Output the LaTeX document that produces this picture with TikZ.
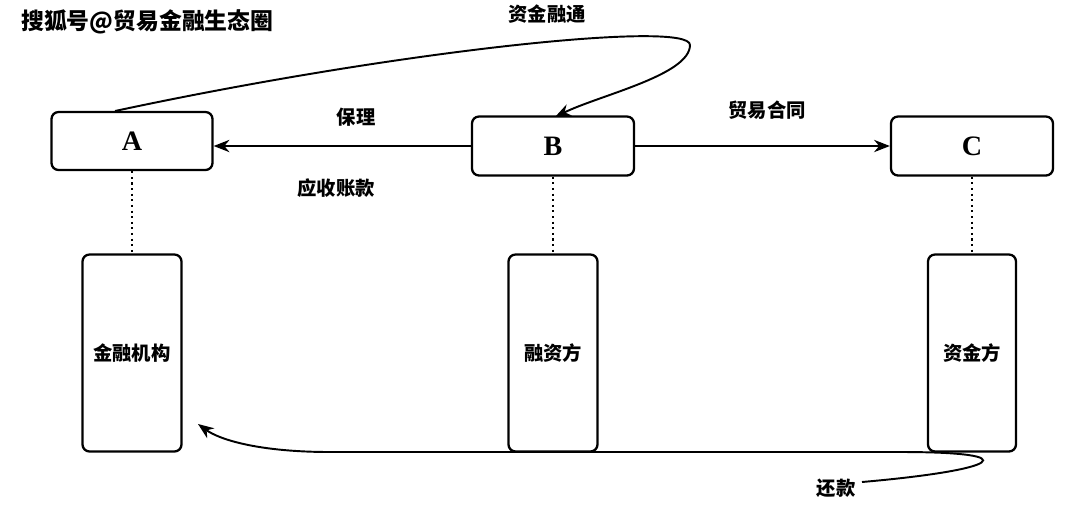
\documentclass[tikz,border=0pt]{standalone}
\usepackage{fontspec}
\newfontfamily\cjk{Noto Sans CJK SC}
\newfontfamily\serifb{Liberation Serif}
\usetikzlibrary{arrows.meta}
\begin{document}
\begin{tikzpicture}[x=0.02cm,y=-0.02cm,
 box/.style={draw,line width=1.3pt,rounded corners=4pt,inner sep=0pt},
 letter/.style={font=\serifb\bfseries\fontsize{16}{18}\selectfont},
 lab/.style={font=\cjk\bfseries\fontsize{11}{13}\selectfont},
 arr/.style={line width=1.1pt,-{Stealth[length=9pt,width=7pt]}}]
\useasboundingbox (0,0) rectangle (1080,512);
\node[font=\cjk\bfseries\fontsize{13}{15}\selectfont,anchor=west] (wm) at (15,22) {搜狐号@贸易金融生态圈};
\node[box,minimum width=161*0.02cm,minimum height=58*0.02cm,letter] (A) at (132,141) {A};
\node[box,minimum width=162*0.02cm,minimum height=59*0.02cm,letter] (B) at (553,146) {B};
\node[box,minimum width=162*0.02cm,minimum height=59*0.02cm,letter] (C) at (972,146) {C};
\node[box,minimum width=99*0.02cm,minimum height=197*0.02cm,lab] (D) at (132,353) {金融机构};
\node[box,minimum width=89*0.02cm,minimum height=197*0.02cm,lab] (E) at (553,353) {融资方};
\node[box,minimum width=88*0.02cm,minimum height=197*0.02cm,lab] (F) at (972,353) {资金方};
\draw[line width=1.2pt,dotted] (A) -- (D);
\draw[line width=1.2pt,dotted] (B) -- (E);
\draw[line width=1.2pt,dotted] (C) -- (F);
\draw[arr] (B.west) -- (A.east|-B.west);
\draw[arr] (B) -- (C);
\node[lab] (l1) at (356,117) {保理};
\node[lab] (l2) at (336,188) {应收账款};
\node[lab] (l3) at (767,110) {贸易合同};
\node[lab] (l4) at (547,14) {资金融通};
\node[lab] (l5) at (836,488) {还款};
\coordinate (s1) at (115,111);
\draw[arr] (s1) .. controls (400,50) and (690,20) .. (690,45) .. controls (690,75) and (600,95) .. (555,117);
\coordinate (s2) at (862,482);
\draw[arr] (s2) .. controls (1000,470) and (1030,452) .. (900,452) -- (330,452) .. controls (260,452) and (220,440) .. (198,424);
\end{tikzpicture}
\end{document}
